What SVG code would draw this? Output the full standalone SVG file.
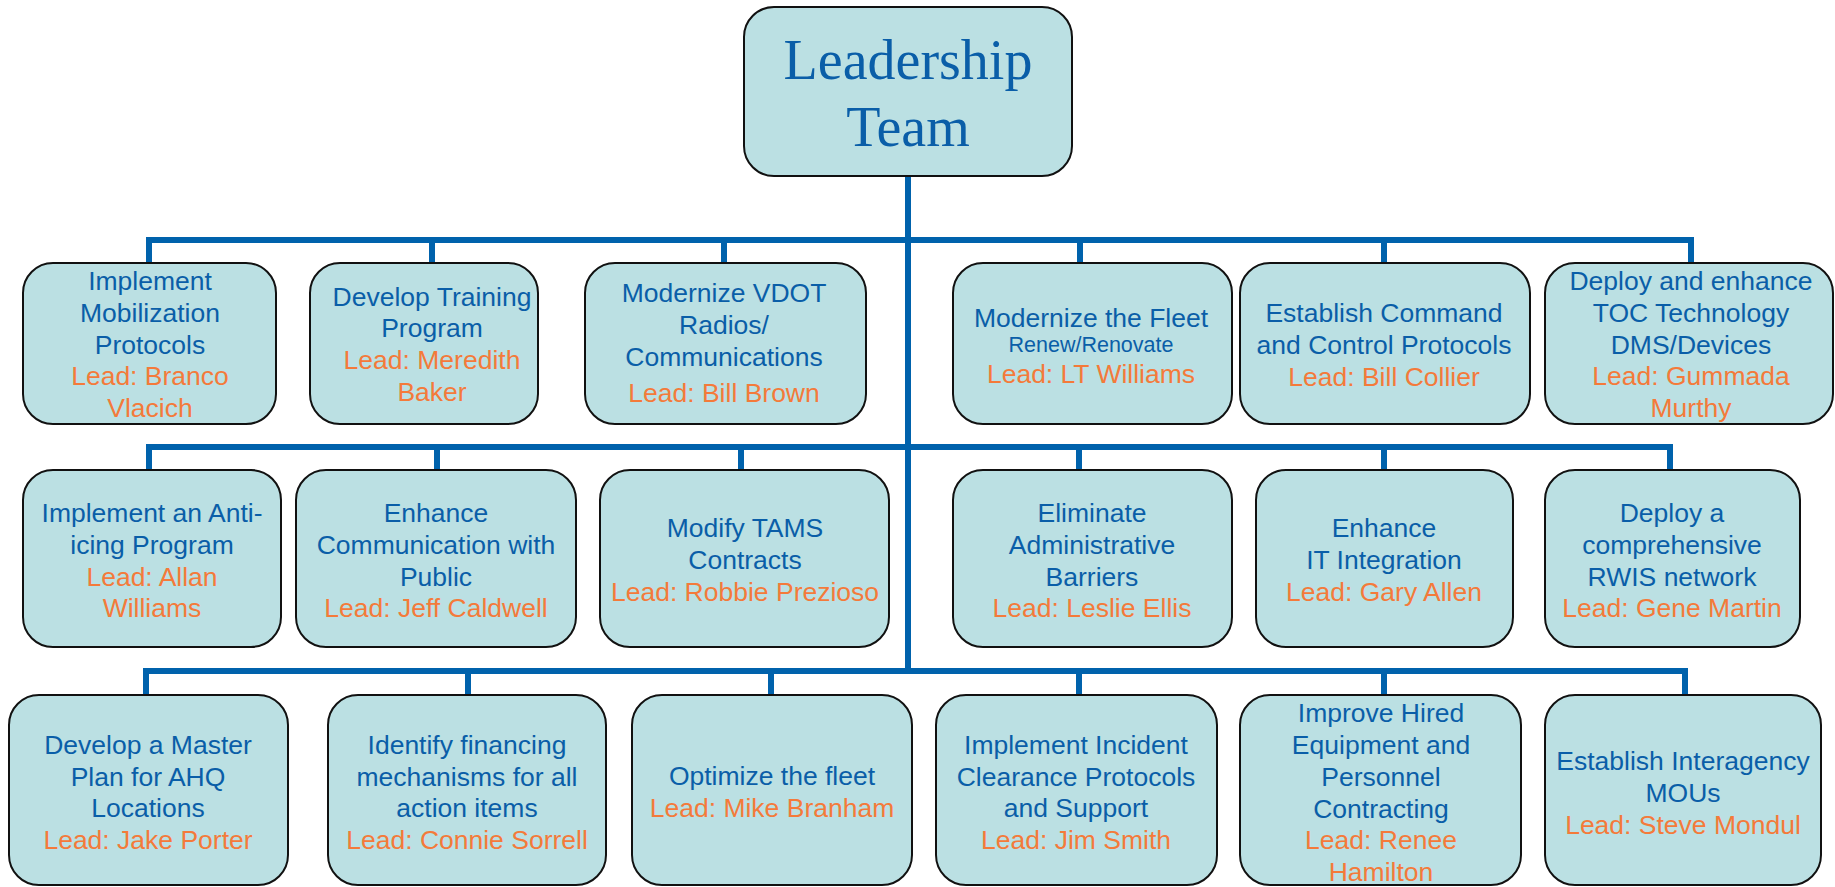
<svg xmlns="http://www.w3.org/2000/svg" width="1835" height="887" viewBox="0 0 1835 887">
<style>
.box{fill:#bbe0e3;stroke:#111;stroke-width:2}
.t{font-family:"Liberation Sans",Arial,sans-serif;font-size:26.5px;fill:#0a5ea8;text-anchor:middle}
.o{fill:#f47a3a}
.s{font-size:21.5px}
.h{font-family:"Liberation Serif","Times New Roman",serif;font-size:56px;fill:#0a5ea8;text-anchor:middle}
.c{stroke:#0062ac;stroke-width:6;fill:none}
</style>
<rect width="1835" height="887" fill="#fff"/>
<g id="connectors">
<path class="c" d="M908 176V671"/>
<path class="c" d="M149 263V240H1691V263M432 240V263M724 240V263M1080 240V263M1384 240V263"/>
<path class="c" d="M149 470V447H1670V470M437 447V470M741 447V470M1079 447V470M1384 447V470"/>
<path class="c" d="M146 695V671H1685V695M468 671V695M771 671V695M1079 671V695M1384 671V695"/>
</g>
<g id="leadership"><rect class="box" x="744" y="7" width="328" height="169" rx="30"/>
<text class="h" x="908" y="79">Leadership</text><text class="h" x="908" y="146">Team</text></g>

<g id="r1n1"><rect class="box" x="23" y="263" width="253" height="161" rx="30"/>
<text class="t" x="150" y="290"><tspan x="150">Implement</tspan><tspan x="150" dy="31.8">Mobilization</tspan><tspan x="150" dy="31.8">Protocols</tspan><tspan x="150" dy="31.8" class="o">Lead: Branco</tspan><tspan x="150" dy="31.8" class="o">Vlacich</tspan></text></g>
<g id="r1n2"><rect class="box" x="310" y="263" width="228" height="161" rx="30"/>
<text class="t" x="432" y="305.6"><tspan x="432">Develop Training</tspan><tspan x="432" dy="31.8">Program</tspan><tspan x="432" dy="31.8" class="o">Lead: Meredith</tspan><tspan x="432" dy="31.8" class="o">Baker</tspan></text></g>
<g id="r1n3"><rect class="box" x="585" y="263" width="281" height="161" rx="30"/>
<text class="t" x="724" y="302"><tspan x="724">Modernize VDOT</tspan><tspan x="724" dy="31.8">Radios/</tspan><tspan x="724" dy="31.8">Communications</tspan><tspan x="724" dy="36" class="o">Lead: Bill Brown</tspan></text></g>
<g id="r1n4"><rect class="box" x="953" y="263" width="279" height="161" rx="30"/>
<text class="t" x="1091" y="326.7"><tspan x="1091">Modernize the Fleet</tspan><tspan x="1091" dy="25" class="s">Renew/Renovate</tspan><tspan x="1091" dy="31" class="o">Lead: LT Williams</tspan></text></g>
<g id="r1n5"><rect class="box" x="1240" y="263" width="290" height="161" rx="30"/>
<text class="t" x="1384" y="322"><tspan x="1384">Establish Command</tspan><tspan x="1384" dy="31.8">and Control Protocols</tspan><tspan x="1384" dy="31.8" class="o">Lead: Bill Collier</tspan></text></g>
<g id="r1n6"><rect class="box" x="1545" y="263" width="288" height="161" rx="30"/>
<text class="t" x="1691" y="290"><tspan x="1691">Deploy and enhance</tspan><tspan x="1691" dy="31.8">TOC Technology</tspan><tspan x="1691" dy="31.8">DMS/Devices</tspan><tspan x="1691" dy="31.8" class="o">Lead: Gummada</tspan><tspan x="1691" dy="31.8" class="o">Murthy</tspan></text></g>

<g id="r2n1"><rect class="box" x="23" y="470" width="258" height="177" rx="30"/>
<text class="t" x="152" y="522"><tspan x="152">Implement an Anti-</tspan><tspan x="152" dy="31.8">icing Program</tspan><tspan x="152" dy="31.8" class="o">Lead: Allan</tspan><tspan x="152" dy="31.8" class="o">Williams</tspan></text></g>
<g id="r2n2"><rect class="box" x="296" y="470" width="280" height="177" rx="30"/>
<text class="t" x="436" y="522"><tspan x="436">Enhance</tspan><tspan x="436" dy="31.8">Communication with</tspan><tspan x="436" dy="31.8">Public</tspan><tspan x="436" dy="31.8" class="o">Lead: Jeff Caldwell</tspan></text></g>
<g id="r2n3"><rect class="box" x="600" y="470" width="289" height="177" rx="30"/>
<text class="t" x="745" y="537.3"><tspan x="745">Modify TAMS</tspan><tspan x="745" dy="31.8">Contracts</tspan><tspan x="745" dy="31.8" class="o">Lead: Robbie Prezioso</tspan></text></g>
<g id="r2n4"><rect class="box" x="953" y="470" width="279" height="177" rx="30"/>
<text class="t" x="1092" y="522"><tspan x="1092">Eliminate</tspan><tspan x="1092" dy="31.8">Administrative</tspan><tspan x="1092" dy="31.8">Barriers</tspan><tspan x="1092" dy="31.8" class="o">Lead: Leslie Ellis</tspan></text></g>
<g id="r2n5"><rect class="box" x="1256" y="470" width="257" height="177" rx="30"/>
<text class="t" x="1384" y="537.3"><tspan x="1384">Enhance</tspan><tspan x="1384" dy="31.8">IT Integration</tspan><tspan x="1384" dy="31.8" class="o">Lead: Gary Allen</tspan></text></g>
<g id="r2n6"><rect class="box" x="1545" y="470" width="255" height="177" rx="30"/>
<text class="t" x="1672" y="522"><tspan x="1672">Deploy a</tspan><tspan x="1672" dy="31.8">comprehensive</tspan><tspan x="1672" dy="31.8">RWIS network</tspan><tspan x="1672" dy="31.8" class="o">Lead: Gene Martin</tspan></text></g>

<g id="r3n1"><rect class="box" x="9" y="695" width="279" height="190" rx="30"/>
<text class="t" x="148" y="753.8"><tspan x="148">Develop a Master</tspan><tspan x="148" dy="31.8">Plan for AHQ</tspan><tspan x="148" dy="31.8">Locations</tspan><tspan x="148" dy="31.8" class="o">Lead: Jake Porter</tspan></text></g>
<g id="r3n2"><rect class="box" x="328" y="695" width="278" height="190" rx="30"/>
<text class="t" x="467" y="753.8"><tspan x="467">Identify financing</tspan><tspan x="467" dy="31.8">mechanisms for all</tspan><tspan x="467" dy="31.8">action items</tspan><tspan x="467" dy="31.8" class="o">Lead: Connie Sorrell</tspan></text></g>
<g id="r3n3"><rect class="box" x="632" y="695" width="280" height="190" rx="30"/>
<text class="t" x="772" y="785.4"><tspan x="772">Optimize the fleet</tspan><tspan x="772" dy="31.8" class="o">Lead: Mike Branham</tspan></text></g>
<g id="r3n4"><rect class="box" x="936" y="695" width="281" height="190" rx="30"/>
<text class="t" x="1076" y="753.8"><tspan x="1076">Implement Incident</tspan><tspan x="1076" dy="31.8">Clearance Protocols</tspan><tspan x="1076" dy="31.8">and Support</tspan><tspan x="1076" dy="31.8" class="o">Lead: Jim Smith</tspan></text></g>
<g id="r3n5"><rect class="box" x="1240" y="695" width="281" height="190" rx="30"/>
<text class="t" x="1381" y="722.2"><tspan x="1381">Improve Hired</tspan><tspan x="1381" dy="31.8">Equipment and</tspan><tspan x="1381" dy="31.8">Personnel</tspan><tspan x="1381" dy="31.8">Contracting</tspan><tspan x="1381" dy="31.8" class="o">Lead: Renee</tspan><tspan x="1381" dy="31.8" class="o">Hamilton</tspan></text></g>
<g id="r3n6"><rect class="box" x="1545" y="695" width="276" height="190" rx="30"/>
<text class="t" x="1683" y="770.2"><tspan x="1683">Establish Interagency</tspan><tspan x="1683" dy="31.8">MOUs</tspan><tspan x="1683" dy="31.8" class="o">Lead: Steve Mondul</tspan></text></g>
</svg>
